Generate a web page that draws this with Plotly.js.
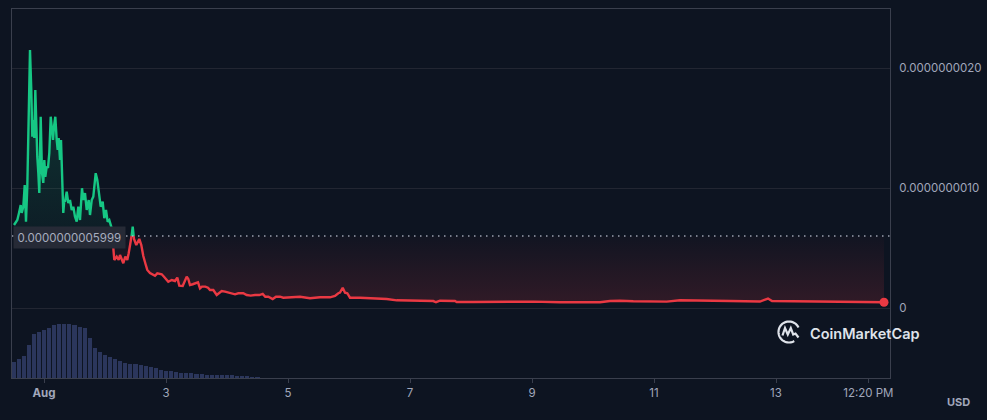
<!DOCTYPE html>
<html><head><meta charset="utf-8">
<script src="https://cdn.plot.ly/plotly-3.0.1.min.js"></script>
<style>html,body{margin:0;padding:0;background:#0d1421;}#chart{width:987px;height:420px;}</style>
</head><body><div id="chart"></div>
<script>
// Price in units of 1e-9 USD; time in hours since Aug 1 00:00
const SCALE = 1e-9;
const baseValue = 0.5999;
const baseLabel = '0.0000000005999';
const priceHours = [-11.80,-11.02,-10.50,-9.84,-9.17,-8.77,-8.14,-7.59,-7.08,-6.57,-6.02,-5.51,-5.00,-4.60,-4.21,-3.82,-3.42,-3.03,-2.64,-2.24,-1.85,-1.30,-0.79,-0.28,0.12,0.51,1.06,1.57,2.09,2.64,3.15,3.54,3.93,4.45,5.00,5.39,5.78,6.30,6.69,7.20,7.59,7.99,8.26,8.93,9.56,10.23,10.90,11.53,12.20,12.87,13.49,14.16,14.95,15.46,16.13,16.80,17.59,18.10,18.77,19.40,20.34,20.97,21.76,22.31,23.09,23.72,24.39,25.06,25.69,26.64,27.27,27.66,28.60,29.39,29.90,30.69,31.20,31.99,32.77,33.32,34.11,34.90,35.41,36.31,37.49,38.28,39.07,39.94,40.64,41.71,43.67,44.58,46.31,47.21,48.28,48.90,50.24,51.54,52.45,53.23,54.57,55.59,56.14,56.77,57.44,58.50,59.80,60.59,61.38,62.16,63.46,64.52,65.31,66.61,67.95,68.73,69.92,71.21,72.51,73.85,75.15,76.45,78.41,79.75,81.32,83.02,84.71,86.05,87.07,88.25,89.98,91.28,92.85,94.15,96.79,100.72,104.66,108.59,112.52,114.49,115.79,116.46,117.52,118.43,119.33,120.39,124.33,130.90,134.83,138.77,144.0,153.17,154.23,155.80,161.70,162.37,168.90,179.41,192.51,203.01,218.75,222.69,226.62,231.85,244.99,250.23,258.10,269.90,281.70,283.28,284.85,286.43,297.44,313.18,330.49];
const priceNano = [0.692,0.711,0.733,0.792,0.858,0.792,0.844,1.025,0.719,1.011,1.594,2.150,1.817,1.428,1.567,1.417,1.817,1.428,1.261,1.125,0.958,1.594,1.125,1.042,1.233,1.094,1.178,1.167,1.292,1.594,1.511,1.400,1.511,1.594,1.400,1.317,1.417,1.233,1.400,1.011,0.792,0.900,0.886,0.969,0.875,0.900,0.817,0.844,0.761,0.719,0.844,0.733,0.998,0.900,0.958,0.817,0.900,0.775,0.900,0.928,1.123,1.067,0.900,0.844,0.886,0.748,0.817,0.719,0.733,0.664,0.498,0.400,0.428,0.400,0.442,0.400,0.373,0.428,0.400,0.456,0.539,0.678,0.575,0.525,0.575,0.525,0.433,0.367,0.317,0.292,0.269,0.289,0.281,0.261,0.233,0.219,0.233,0.225,0.253,0.186,0.183,0.242,0.261,0.242,0.192,0.198,0.206,0.214,0.164,0.178,0.178,0.169,0.150,0.150,0.108,0.123,0.142,0.136,0.128,0.123,0.114,0.123,0.123,0.108,0.103,0.108,0.108,0.117,0.094,0.094,0.075,0.094,0.094,0.086,0.089,0.094,0.081,0.089,0.089,0.100,0.123,0.128,0.169,0.128,0.123,0.086,0.086,0.083,0.075,0.064,0.0625,0.058,0.048,0.061,0.058,0.050,0.050,0.053,0.053,0.048,0.048,0.058,0.061,0.056,0.053,0.064,0.064,0.058,0.054,0.067,0.079,0.058,0.054,0.050,0.048];
const volHours = [-12,-10,-8,-6,-4,-2,0,2,4,6,8,10,12,14,16,18,20,22,24,26,28,30,32,34,36,38,40,42,44,46,48,50,52,54,56,58,60,62,64,66,68,70,72,74,76,78,80,82,84];
const volValues = [16,19,22,33,44,46,48,50,53,54,54,54,53,51.5,50,40,30,26,23.5,21.5,19.5,17.5,15,14.5,14,13,12,11,10,8.5,7.5,7,6.5,5.5,5.5,5,4.5,4,3.5,3,2.7,2.7,2.6,2.6,2.4,2,1.8,1.5,1];
const xTickHours = [0,48,96,144,192,240,288,324.333];
const xTickLabels = ['<b>Aug</b>','3','5','7','9','11','13','12:20 PM'];
const yTickVals = [0,1,2];
const yTickLabels = ['0','0.0000000010','0.0000000020'];

const GREEN = '#16c784', RED = '#ea3943';
function toDate(h){ return new Date(Date.UTC(2024,7,1) + h*3600000).toISOString().replace('T',' ').slice(0,19); }

// split line at baseline crossings (for colouring only)
const mx=[], my=[];
for (let i=0;i<priceHours.length;i++){
  if (i>0){
    const a=priceNano[i-1], b=priceNano[i];
    if ((a-baseValue)*(b-baseValue)<0){
      const t=(baseValue-a)/(b-a);
      mx.push(priceHours[i-1]+t*(priceHours[i]-priceHours[i-1])); my.push(baseValue);
    }
  }
  mx.push(priceHours[i]); my.push(priceNano[i]);
}
const X = mx.map(toDate);
const baseY = my.map(()=>baseValue*SCALE);
const upFill = my.map(v=>Math.max(v,baseValue)*SCALE);
const dnFill = my.map(v=>Math.min(v,baseValue)*SCALE);
const upLine = my.map(v=>v>=baseValue? v*SCALE : null);
const dnLine = my.map(v=>v<=baseValue? v*SCALE : null);

const traces = [
  {type:'bar', x:volHours.map(toDate), y:volValues, yaxis:'y2', marker:{color:'#2b365c', line:{width:0}}, width:1.6*3600000, hoverinfo:'skip'},
  {type:'scatter', mode:'lines', x:X, y:baseY, line:{width:0, color:'rgba(0,0,0,0)'}, hoverinfo:'skip'},
  {type:'scatter', mode:'lines', x:X, y:upFill, fill:'tonexty', line:{width:0, color:'rgba(0,0,0,0)'},
   fillcolor:'rgba(22,199,132,0.12)',
   fillgradient:{type:'vertical', colorscale:[[0,'rgba(22,199,132,0.05)'],[1,'rgba(22,199,132,0.22)']], start:baseValue*SCALE, stop:2.15*SCALE}, hoverinfo:'skip'},
  {type:'scatter', mode:'lines', x:X, y:baseY, line:{width:0, color:'rgba(0,0,0,0)'}, hoverinfo:'skip'},
  {type:'scatter', mode:'lines', x:X, y:dnFill, fill:'tonexty', line:{width:0, color:'rgba(0,0,0,0)'},
   fillcolor:'rgba(234,57,67,0.1)',
   fillgradient:{type:'vertical', colorscale:[[0,'rgba(234,57,67,0.17)'],[1,'rgba(234,57,67,0.02)']], start:0, stop:baseValue*SCALE}, hoverinfo:'skip'},
  {type:'scatter', mode:'lines', x:X, y:upLine, connectgaps:false, line:{color:GREEN, width:2.4}, hoverinfo:'skip'},
  {type:'scatter', mode:'lines', x:X, y:dnLine, connectgaps:false, line:{color:RED, width:2.4}, hoverinfo:'skip'},
  {type:'scatter', mode:'markers', x:[toDate(priceHours[priceHours.length-1])], y:[priceNano[priceNano.length-1]*SCALE], marker:{color:RED, size:9}, hoverinfo:'skip'}
];

// logo ring (decoration)
let ring = '';
for (let a=25; a<=300; a+=5){
  const r = a*Math.PI/180;
  ring += (ring? ' L ':'M ') + (10.5*Math.cos(r)).toFixed(2) + ' ' + (10.5*Math.sin(r)).toFixed(2);
}
const wave = 'M -6.5 -3.5 L -4 4 L -1.2 -2.5 L 1.8 4 L 4.2 -2.5 L 6.5 -1.5 L 9.5 -5.5';

const logoX = (789-12)/878, logoY = (378-332)/369;
const layout = {
  width:987, height:420,
  paper_bgcolor:'#0d1421', plot_bgcolor:'#0d1421',
  margin:{l:12, r:97, t:9, b:42},
  showlegend:false, bargap:0,
  font:{family:'Inter, "Noto Sans", sans-serif', color:'#a1a7bb', size:11},
  xaxis:{type:'date', range:[toDate(-12.59), toDate(332.85)], tickmode:'array',
    tickvals:xTickHours.map(toDate), ticktext:xTickLabels, ticks:'outside', ticklen:4, tickcolor:'#3a3f4d',
    showgrid:false, showline:true, linecolor:'#3a3f4d', linewidth:1, mirror:true, zeroline:false,
    tickfont:{size:11.5, color:'#a1a7bb'}},
  yaxis:{side:'right', range:[-0.5833*SCALE, 2.4917*SCALE], tickmode:'array',
    tickvals:yTickVals.map(v=>v*SCALE), ticktext:yTickLabels, showgrid:true, gridcolor:'#222632', gridwidth:1,
    showline:true, linecolor:'#3a3f4d', mirror:true, zeroline:false, ticks:'', ticklabelstandoff:6,
    tickfont:{size:11.5, color:'#a1a7bb'}},
  yaxis2:{overlaying:'y', range:[0,369], visible:false, showgrid:false, zeroline:false},
  shapes:[
    {type:'line', xref:'paper', x0:0, x1:1, yref:'y', y0:baseValue*SCALE, y1:baseValue*SCALE,
     line:{color:'rgba(190,195,210,0.8)', width:1.5, dash:'1.5px,4.5px'}},
    {type:'path', xref:'paper', yref:'paper', xsizemode:'pixel', ysizemode:'pixel', xanchor:logoX, yanchor:logoY,
     path:ring, line:{color:'#dfe3ea', width:2.2}},
    {type:'path', xref:'paper', yref:'paper', xsizemode:'pixel', ysizemode:'pixel', xanchor:logoX, yanchor:logoY,
     path:wave, line:{color:'#dfe3ea', width:2.2}}
  ],
  annotations:[
    {xref:'paper', x:0, xanchor:'left', xshift:1, yref:'y', y:baseValue*SCALE, yanchor:'middle', yshift:-1,
     text:baseLabel, showarrow:false, bgcolor:'#262a36', borderpad:3.5, font:{size:11.5, color:'#a7adbf'}},
    {xref:'paper', x:(808-12)/878, xanchor:'left', yref:'paper', y:(378-333)/369, yanchor:'middle',
     text:'CoinMarketCap', showarrow:false, font:{size:14.5, color:'#dfe3ea', weight:600}},
    {xref:'paper', x:1, xanchor:'right', xshift:82, yref:'paper', y:0, yanchor:'middle', yshift:-24,
     text:'<b>USD</b>', showarrow:false, font:{size:11, color:'#a1a7bb'}}
  ]
};
Plotly.newPlot('chart', traces, layout, {staticPlot:true, displayModeBar:false});
</script>
</body></html>
